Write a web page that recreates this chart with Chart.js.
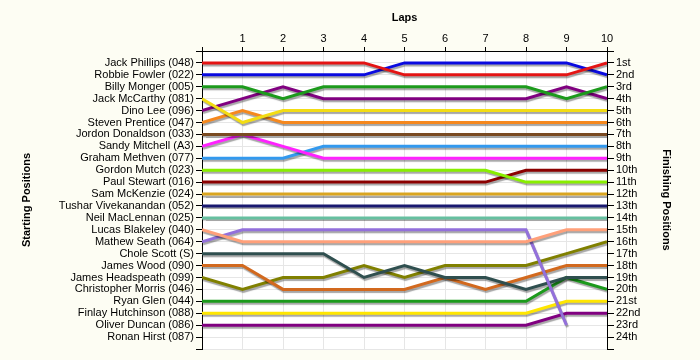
<!DOCTYPE html>
<html>
<head>
<meta charset="utf-8">
<script src="https://cdn.jsdelivr.net/npm/chart.js@4.4.1/dist/chart.umd.min.js"></script>
<style>
  html, body { margin: 0; padding: 0; background: #fdfdf3; }
  #wrap { width: 700px; height: 360px; }
</style>
</head>
<body>
<div id="wrap"><canvas id="lapChart" width="700" height="360"></canvas></div>
<script>
const laps = [0, 1, 2, 3, 4, 5, 6, 7, 8, 9, 10];

const drivers = [
    "Jack Phillips (048)", "Robbie Fowler (022)", "Billy Monger (005)", "Jack McCarthy (081)",
    "Dino Lee (096)", "Steven Prentice (047)", "Jordon Donaldson (033)", "Sandy Mitchell (A3)",
    "Graham Methven (077)", "Gordon Mutch (023)", "Paul Stewart (016)", "Sam McKenzie (024)",
    "Tushar Vivekanandan (052)", "Neil MacLennan (025)", "Lucas Blakeley (040)", "Mathew Seath (064)",
    "Chole Scott (S)", "James Wood (090)", "James Headspeath (099)", "Christopher Morris (046)",
    "Ryan Glen (044)", "Finlay Hutchinson (088)", "Oliver Duncan (086)", "Ronan Hirst (087)"
];

const finishLabels = [
    "1st", "2nd", "3rd", "4th", "5th", "6th", "7th", "8th", "9th", "10th", "11th", "12th",
    "13th", "14th", "15th", "16th", "17th", "18th", "19th", "20th", "21st", "22nd", "23rd", "24th"
];

// position of each driver at laps 0..10 (same order as drivers)
const positions = [
    [1, 1, 1, 1, 1, 2, 2, 2, 2, 2, 1],
    [2, 2, 2, 2, 2, 1, 1, 1, 1, 1, 2],
    [3, 3, 4, 3, 3, 3, 3, 3, 3, 4, 3],
    [4, 6, 5, 5, 5, 5, 5, 5, 5, 5, 5],
    [5, 4, 3, 4, 4, 4, 4, 4, 4, 3, 4],
    [6, 5, 6, 6, 6, 6, 6, 6, 6, 6, 6],
    [7, 7, 7, 7, 7, 7, 7, 7, 7, 7, 7],
    [8, 7, 8, 9, 9, 9, 9, 9, 9, 9, 9],
    [9, 9, 9, 8, 8, 8, 8, 8, 8, 8, 8],
    [10, 10, 10, 10, 10, 10, 10, 10, 11, 11, 11],
    [11, 11, 11, 11, 11, 11, 11, 11, 10, 10, 10],
    [12, 12, 12, 12, 12, 12, 12, 12, 12, 12, 12],
    [13, 13, 13, 13, 13, 13, 13, 13, 13, 13, 13],
    [14, 14, 14, 14, 14, 14, 14, 14, 14, 14, 14],
    [15, 16, 16, 16, 16, 16, 16, 16, 16, 15, 15],
    [16, 15, 15, 15, 15, 15, 15, 15, 15, 23, null],
    [17, 17, 17, 17, 19, 18, 19, 19, 20, 19, 19],
    [18, 18, 20, 20, 20, 20, 19, 20, 19, 18, 18],
    [19, 20, 19, 19, 18, 19, 18, 18, 18, 17, 16],
    [],
    [21, 21, 21, 21, 21, 21, 21, 21, 21, 19, 20],
    [22, 22, 22, 22, 22, 22, 22, 22, 22, 21, 21],
    [23, 23, 23, 23, 23, 23, 23, 23, 23, 22, 22],
    []
];

const lineColors = [
    "#e41414", "#0a0ae0", "#1c9a1c", "#f2dc14", "#800080", "#f5881e", "#7a4a22", "#ff22ff",
    "#3399ee", "#88ee00", "#8b0000", "#daa520", "#191970", "#66c0a0", "#ffa07a", "#9370db",
    "#2f4f4f", "#d2691e", "#808000", "#cccccc", "#1c9a1c", "#ffe600", "#800080", "#cccccc"
];

const rows = [];
for (let r = 0; r <= 25; r++) rows.push(r);

Chart.defaults.font.family = "'Liberation Sans', Arial, sans-serif";
Chart.defaults.font.size = 11;
Chart.defaults.color = "#000";

// grey drop shadow under each line
const lineShadow = {
    id: "lineShadow",
    beforeDatasetsDraw(chart) {
        const ctx = chart.ctx;
        ctx.save();
        ctx.shadowColor = "rgba(0,0,0,0.35)";
        ctx.shadowBlur = 1;
        ctx.shadowOffsetX = 1;
        ctx.shadowOffsetY = 2;
    },
    afterDatasetsDraw(chart) {
        chart.ctx.restore();
    },
};

const plotBg = {
    id: "plotBg",
    beforeDraw(chart) {
        const { ctx, chartArea } = chart;
        ctx.save();
        ctx.fillStyle = "#ffffff";
        ctx.fillRect(chartArea.left, chartArea.top, chartArea.right - chartArea.left, chartArea.bottom - chartArea.top);
        ctx.restore();
    },
};

const datasets = drivers.map((name, i) => ({
    label: name,
    data: positions[i].map((p, k) => ({ x: laps[k], y: p })),
    borderColor: lineColors[i],
    borderWidth: 3,
    pointRadius: 0,
    tension: 0,
    spanGaps: false,
    fill: false,
}));

const yCommon = {
    type: "linear",
    min: 0,
    max: 25,
    reverse: true,
    afterBuildTicks: (s) => { s.ticks = rows.map((v) => ({ value: v })); },
    border: { color: "#000", width: 1 },
};

new Chart(document.getElementById("lapChart"), {
    type: "line",
    data: { datasets },
    options: {
        responsive: false,
        animation: false,
        layout: { padding: { top: 0, left: 0, right: 0, bottom: 11 } },
        plugins: {
            legend: { display: false },
            tooltip: { enabled: false },
        },
        scales: {
            x: {
                type: "linear",
                position: "top",
                min: 0,
                max: 10,
                afterBuildTicks: (s) => { s.ticks = laps.map((v) => ({ value: v })); },
                afterFit: (s) => { s.height = 51; },
                ticks: {
                    padding: 1,
                    maxRotation: 0,
                    callback: (v) => (v === 0 ? "" : v),
                },
                grid: { color: "#e6e6e6", tickColor: "#000", tickLength: 4 },
                border: { color: "#000", width: 1 },
                title: {
                    display: true,
                    text: "Laps",
                    font: { weight: "bold", size: 11 },
                    padding: { top: 11, bottom: 0 },
                },
            },
            y: {
                ...yCommon,
                position: "left",
                afterFit: (s) => { s.width = 202; },
                ticks: {
                    padding: 2,
                    autoSkip: false,
                    callback: (v) => (v >= 1 && v <= 24 ? drivers[v - 1] : ""),
                },
                grid: { color: "#e6e6e6", tickColor: "#000", tickLength: 6 },
                title: {
                    display: true,
                    text: "Starting Positions",
                    font: { weight: "bold", size: 11 },
                    padding: { top: 20, bottom: 0 },
                },
            },
            y2: {
                ...yCommon,
                position: "right",
                afterFit: (s) => { s.width = 93; },
                ticks: {
                    padding: 2,
                    autoSkip: false,
                    callback: (v) => (v >= 1 && v <= 24 ? finishLabels[v - 1] : ""),
                },
                grid: { drawOnChartArea: false, tickColor: "#000", tickLength: 7 },
                title: {
                    display: true,
                    text: "Finishing Positions",
                    font: { weight: "bold", size: 11 },
                    padding: { top: 27, bottom: 0 },
                },
            },
        },
    },
    plugins: [plotBg, lineShadow],
});
</script>
</body>
</html>
